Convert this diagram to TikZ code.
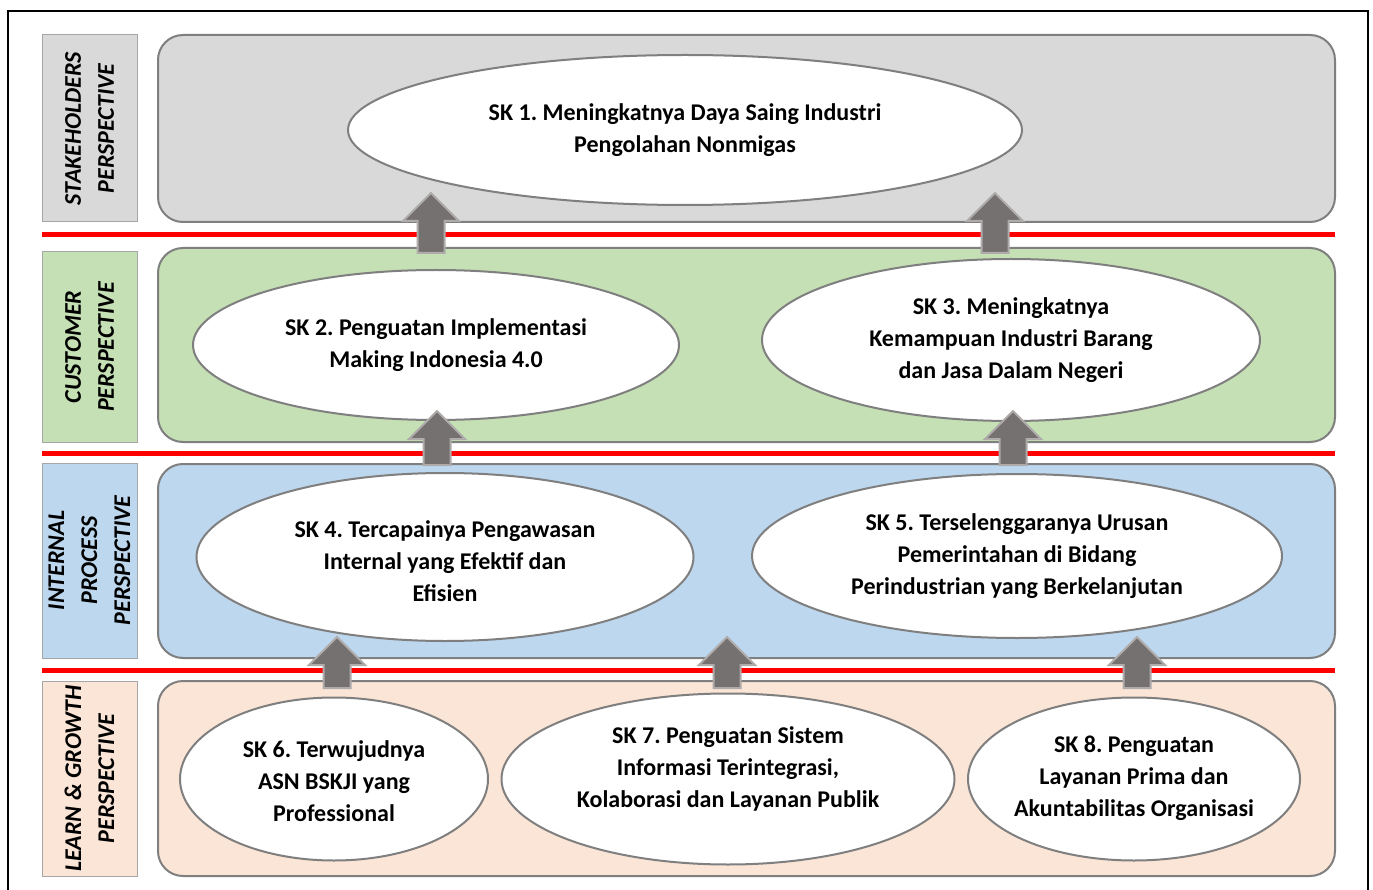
\documentclass[tikz,border=0pt]{standalone}
\usepackage{fontspec}
\setmainfont{Carlito}
\frenchspacing
\usetikzlibrary{shapes.geometric,calc}
\definecolor{skgray}{HTML}{D9D9D9}
\definecolor{skgreen}{HTML}{C5E0B4}
\definecolor{skblue}{HTML}{BDD7EE}
\definecolor{skpeach}{HTML}{FBE5D6}
\definecolor{bordergray}{HTML}{7F7F7F}
\definecolor{lblborder}{HTML}{A6A6A6}
\definecolor{arrfill}{HTML}{767171}
\definecolor{arrborder}{HTML}{AFABAB}
\newcommand\blkarrow[2]{\draw[blockarr] let \p1=(#1), \p2=(#2) in
  (\x1-13.5pt,\y1) -- (\x1+13.5pt,\y1) -- (\x1+13.5pt,\y2-28pt) -- (\x1+28pt,\y2-28pt)
  -- (\x2,\y2) -- (\x1-28pt,\y2-28pt) -- (\x1-13.5pt,\y2-28pt) -- cycle;}
\begin{document}
\begin{tikzpicture}[x=1pt,y=-1pt,
  panel/.style={draw=bordergray, line width=2pt, rounded corners=25pt, inner sep=0pt, minimum width=1177pt},
  lbl/.style={draw=lblborder, line width=1pt, rotate=90, inner sep=0pt, minimum height=95pt, align=center,
    font=\fontsize{24}{33}\selectfont\bfseries\itshape},
  redline/.style={draw=red, line width=5pt},
  sktext/.style={align=center, inner sep=0pt, font=\fontsize{24}{32}\selectfont\bfseries\frenchspacing},
  sk/.style={ellipse, draw=bordergray, line width=2pt, fill=white, inner sep=0pt, sktext},
  blockarr/.style={fill=arrfill, draw=arrborder, line width=2pt},
  frame/.style={draw=black, line width=2pt}]
\useasboundingbox (0,0) rectangle (1373,890);
\fill[white] (0,0) rectangle (1373,890);
\draw[frame] (8,900) -- (8,11) -- (1368,11) -- (1368,900);

% panels
\node[panel, fill=skgray, minimum height=187pt] (p1) at (746.5,128.5) {};
\node[panel, fill=skgreen, minimum height=194pt] (p2) at (746.5,345) {};
\node[panel, fill=skblue, minimum height=194pt] (p3) at (746.5,561) {};
\node[panel, fill=skpeach, minimum height=195pt] (p4) at (746.5,778.5) {};

% perspective labels
\node[lbl, fill=skgray, minimum width=187pt] (l1) at (89.5,128.5) {STAKEHOLDERS\\PERSPECTIVE};
\node[lbl, fill=skgreen, minimum width=190pt] (l2) at (89.5,347) {CUSTOMER\\PERSPECTIVE};
\node[lbl, fill=skblue, minimum width=195pt] (l3) at (89.5,560.5) {INTERNAL\\PROCESS\\PERSPECTIVE};
\node[lbl, fill=skpeach, minimum width=195pt] (l4) at (89.5,778.5) {LEARN \& GROWTH\\PERSPECTIVE};

% red separators
\draw[redline] (42,235) -- (1335,235);
\draw[redline] (42,453) -- (1335,453);
\draw[redline] (42,670) -- (1335,670);

% objectives
\node[sk, minimum width=674pt, minimum height=150pt] (sk1) at (685,130)
  {SK 1. Meningkatnya Daya Saing Industri\\Pengolahan Nonmigas};
\node[sk, minimum width=486pt, minimum height=150pt] (sk2) at (436,345)
  {SK 2. Penguatan Implementasi\\Making Indonesia 4.0};
\node[sk, minimum width=498pt, minimum height=162pt] (sk3) at (1011,340)
  {SK 3. Meningkatnya\\Kemampuan Industri Barang\\dan Jasa Dalam Negeri};
\node[sk, minimum width=497pt, minimum height=168pt,
  label={[sktext, name=sk4t, yshift=-4pt]center:SK 4. Tercapainya Pengawasan\\Internal yang Efektif dan\\Efisien}] (sk4) at (445,557) {};
\node[sk, minimum width=530pt, minimum height=164pt] (sk5) at (1017,556)
  {SK 5. Terselenggaranya Urusan\\Pemerintahan di Bidang\\Perindustrian yang Berkelanjutan};
\node[sk, minimum width=308pt, minimum height=163pt,
  label={[sktext, name=sk6t, yshift=-2pt]center:SK 6. Terwujudnya\\ASN BSKJI yang\\Professional}] (sk6) at (334,779) {};
\node[sk, minimum width=453pt, minimum height=171pt,
  label={[sktext, name=sk7t, yshift=10pt]center:SK 7. Penguatan Sistem\\Informasi Terintegrasi,\\Kolaborasi dan Layanan Publik}] (sk7) at (728,779) {};
\node[sk, minimum width=332pt, minimum height=163pt,
  label={[sktext, name=sk8t, yshift=1pt]center:SK 8. Penguatan\\Layanan Prima dan\\Akuntabilitas Organisasi}] (sk8) at (1134,779) {};

% block arrows
\coordinate (a1s) at (431,253); \coordinate (a1t) at (431,193);
\coordinate (a2s) at (995,253); \coordinate (a2t) at (995,193);
\coordinate (a3s) at (437,465); \coordinate (a3t) at (437,411);
\coordinate (a4s) at (1013,465); \coordinate (a4t) at (1013,411);
\coordinate (a5s) at (337,688); \coordinate (a5t) at (337,637);
\coordinate (a6s) at (727,688); \coordinate (a6t) at (727,637);
\coordinate (a7s) at (1137,688); \coordinate (a7t) at (1137,637);
\blkarrow{a1s}{a1t}
\blkarrow{a2s}{a2t}
\blkarrow{a3s}{a3t}
\blkarrow{a4s}{a4t}
\blkarrow{a5s}{a5t}
\blkarrow{a6s}{a6t}
\blkarrow{a7s}{a7t}
\end{tikzpicture}
\end{document}
